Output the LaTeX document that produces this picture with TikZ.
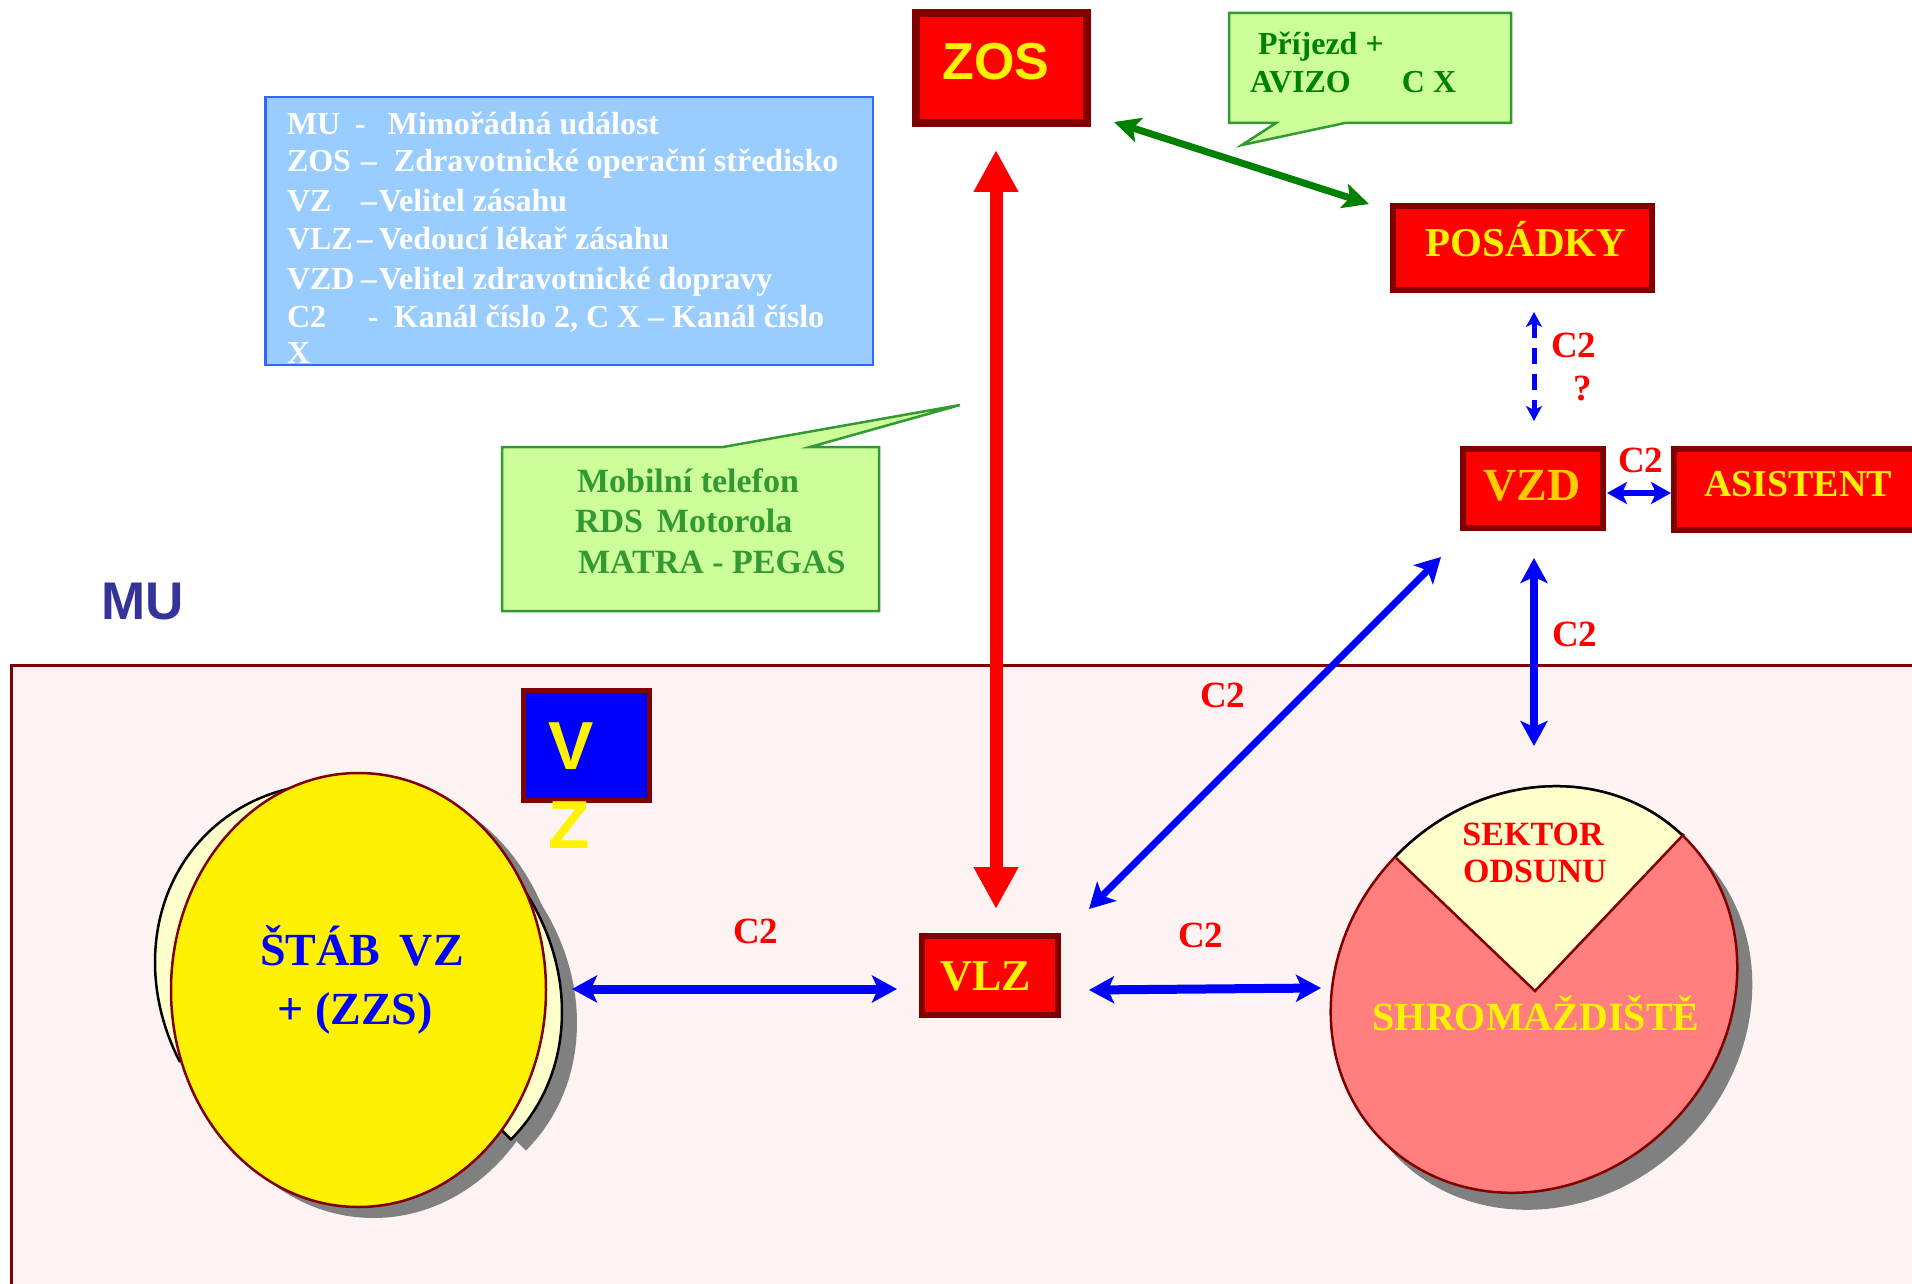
\documentclass[tikz,border=0pt]{standalone}
\usepackage{fontspec}
\setmainfont{Liberation Serif}
\newfontfamily\sansf{Liberation Sans}
\usetikzlibrary{arrows.meta}
\newcommand\myfs[1]{\fontsize{#1pt}{#1pt}\selectfont}
\definecolor{dred}{HTML}{800000}
\definecolor{pinkbg}{HTML}{FDF3F3}
\definecolor{muc}{HTML}{333399}
\definecolor{legf}{HTML}{99CCFF}
\definecolor{legb}{HTML}{3366FF}
\definecolor{callf}{HTML}{CCFF99}
\definecolor{callb}{HTML}{339933}
\definecolor{dgreen}{HTML}{008000}
\definecolor{mgreen}{HTML}{339933}
\definecolor{lyel}{HTML}{FFFFCC}
\definecolor{salmon}{HTML}{FF7F7F}
\definecolor{shgray}{HTML}{808080}
\definecolor{vzdc}{HTML}{FFCC00}
\begin{document}
\begin{tikzpicture}[x=1pt,y=1pt,
  every node/.style={inner sep=0pt,outer sep=0pt},
  rbox/.style={draw=dred,fill=red,line width=6pt},
  ytxt/.style={font={\bfseries\myfs{#1}},text=yellow,anchor=base},
  lab/.style={font={\bfseries\myfs{37}},text=red,anchor=base west},
  legt/.style={font={\bfseries\myfs{32}},text=white,anchor=base west},
  calltxt/.style={font={\bfseries\myfs{32}},text=dgreen,anchor=base west},
  mobtxt/.style={font={\bfseries\myfs{34}},text=mgreen,anchor=base west},
  callout/.style={fill=callf,draw=callb,line width=2.5pt,line join=miter},
  bluearr/.style={draw=blue,line width=#1,{Stealth[length=25pt,width=27pt,inset=6pt]}-{Stealth[length=25pt,width=27pt,inset=6pt]}},
]
\useasboundingbox (0,0) rectangle (1912,-1284);
\clip (0,0) rectangle (1912,-1284);
\fill[white] (0,0) rectangle (1912,-1284);

% event area
\draw[fill=pinkbg,draw=dred,line width=3pt] (11,-665) rectangle (1930,-1300);
\node[font={\sansf\bfseries\myfs{53}},text=muc,anchor=base west] (mu) at (101,-619) {MU};

% legend
\node[draw=legb,fill=legf,line width=2.5pt,minimum width=607.5pt,minimum height=267.5pt] (legend) at (569,-231) {};
\node[legt] (l1) at (287,-135) {\makebox[68pt][l]{MU}\makebox[33pt][l]{-}Mimořádná událost};
\node[legt] (l2) at (287,-172) {\makebox[74pt][l]{ZOS}\makebox[33pt][l]{–}Zdravotnické operační středisko};
\node[legt] (l3) at (287,-212) {\makebox[74pt][l]{VZ}\makebox[18pt][l]{–}Velitel zásahu};
\node[legt] (l4) at (287,-250) {\makebox[70pt][l]{VLZ}\makebox[22pt][l]{–}Vedoucí lékař zásahu};
\node[legt] (l5) at (287,-290) {\makebox[74pt][l]{VZD}\makebox[18pt][l]{–}Velitel zdravotnické dopravy};
\node[legt] (l6) at (287,-327) {\makebox[81pt][l]{C2}\makebox[26pt][l]{-}Kanál číslo 2,\hspace{8pt}C X – Kanál číslo};
\node[legt] (l7) at (287,-363) {X};

% callout Prijezd
\draw[callout] (1229,-13) -- (1511,-13) -- (1511,-123) -- (1345,-123) -- (1242,-145) -- (1276,-123) -- (1229,-123) -- cycle;
\node[calltxt] (prij) at (1258,-55) {Příjezd +};
\node[calltxt] (aviz) at (1250,-93) {\makebox[152pt][l]{AVIZO}C X};

% callout mobile
\draw[callout] (502,-447) -- (723,-447) -- (960,-405) -- (810,-447) -- (879,-447) -- (879,-611) -- (502,-611) -- cycle;
\node[mobtxt] (mob1) at (577,-492) {Mobilní telefon};
\node[mobtxt] (mob2) at (575,-532) {RDS\hspace{14pt}Motorola};
\node[mobtxt] (mob3) at (578,-573) {MATRA - PEGAS};

% boxes
\node[rbox,line width=8pt,minimum width=171pt,minimum height=110pt] (zos) at (1001.5,-68) {};
\node[font={\sansf\bfseries\myfs{52}},text=yellow,anchor=base] (zost) at (996,-80) {ZOS};
\node[rbox,minimum width=259pt,minimum height=84pt] (pos) at (1522.5,-248) {};
\node[ytxt=41] (post) at (1526,-257) {POSÁDKY};
\node[rbox,minimum width=140pt,minimum height=79pt] (vzd) at (1533,-488.5) {};
\node[ytxt=46,text=vzdc] (vzdt) at (1532,-500) {VZD};
\node[rbox,minimum width=273pt,minimum height=81pt] (asi) at (1810,-489.5) {};
\node[ytxt=38] (asit) at (1798,-496) {ASISTENT};
\node[rbox,minimum width=136pt,minimum height=79pt] (vlz) at (990,-975.5) {};
\node[ytxt=44] (vlzt) at (986,-990) {VLZ};

% VZ box
\node[draw=dred,fill=blue,line width=5pt,minimum width=126pt,minimum height=110pt] (vzbox) at (586.5,-745.5) {};
\node[font={\sansf\bfseries\myfs{68}},text=yellow,anchor=base west] (vzv) at (548,-769) {V};
\node[font={\sansf\bfseries\myfs{68}},text=yellow,anchor=base west] (vzz) at (548,-848) {Z};

% STAB (tilted back pie, shadow, yellow ellipse)
\begin{scope}[rotate around={-45:(373.5,-998)}]
  \fill[shgray] (373.5,-998) -- ++(215.6,0) arc[start angle=0,end angle=250,x radius=215.6,y radius=190.6] -- cycle;
\end{scope}
\fill[shgray] (373.5,-1001) ellipse[x radius=187.5,y radius=217];
\begin{scope}[rotate around={-45:(358.5,-987)}]
  \draw[fill=lyel,draw=black,line width=2.5pt,line join=round] (358.5,-987) -- ++(215.6,0) arc[start angle=0,end angle=250,x radius=215.6,y radius=190.6] -- cycle;
\end{scope}
\draw[fill=yellow,draw=dred,line width=2.5pt] (358.5,-990) ellipse[x radius=187.5,y radius=217];
\node[font={\bfseries\myfs{46}},text=blue,anchor=base] (stab1) at (362,-965) {ŠTÁB\hspace{8pt} VZ};
\node[font={\bfseries\myfs{46}},text=blue,anchor=base] (stab2) at (355,-1024) {+ (ZZS)};

% SHROMAZDISTE
\begin{scope}[rotate around={45:(1549,-1006.5)}]
  \fill[shgray] (1549,-1006.5) ellipse[x radius=214,y radius=192];
\end{scope}
\begin{scope}[rotate around={45:(1534,-989.5)}]
  \draw[fill=salmon,draw=dred,line width=2.5pt] (1534,-989.5) ellipse[x radius=214,y radius=192];
\end{scope}
\begin{scope}
  \clip (1535,-991) -- (1261,-729) -- (1831,-679) -- cycle;
  \begin{scope}[rotate around={45:(1534,-989.5)}]
    \draw[fill=lyel,draw=black,line width=2.5pt] (1534,-989.5) ellipse[x radius=214,y radius=192];
  \end{scope}
\end{scope}
\draw[dred,line width=2.5pt] (1396,-858) -- (1535,-991) -- (1684,-834);
\node[font={\bfseries\myfs{34}},text=red,anchor=base] (sek1) at (1533,-845) {SEKTOR};
\node[font={\bfseries\myfs{34}},text=red,anchor=base] (sek2) at (1535,-882) {ODSUNU};
\node[font={\bfseries\myfs{40}},text=yellow,anchor=base] (shr) at (1536,-1030) {SHROMAŽDIŠTĚ};

% connector end points
\coordinate (zosA) at (996,-150);
\coordinate (vlzA) at (996,-909);
\coordinate (zosG) at (1114,-122);
\coordinate (posG) at (1369,-204);
\coordinate (posD) at (1534,-312);
\coordinate (vzdD) at (1534,-421);
\coordinate (vzdR) at (1607,-493);
\coordinate (asiL) at (1671,-493);
\coordinate (vzdDg) at (1441,-557);
\coordinate (vlzDg) at (1089,-909);
\coordinate (vzdS) at (1534,-558);
\coordinate (shrN) at (1534,-746);
\coordinate (stabE) at (572,-989);
\coordinate (vlzW) at (897,-989);
\coordinate (vlzE) at (1089,-990);
\coordinate (shrW) at (1321,-988);

% connectors
\draw[red,line width=13pt,{Triangle[length=42pt,width=42pt]}-{Triangle[length=42pt,width=42pt]}] (zosA) -- (vlzA);
\draw[dgreen,line width=7pt,{Stealth[length=26pt,width=25pt,inset=6pt]}-{Stealth[length=26pt,width=25pt,inset=6pt]}] (zosG) -- (posG);
\draw[blue,line width=5pt,dash pattern=on 16pt off 10pt,{Stealth[length=15pt,width=16pt,inset=4pt]}-{Stealth[length=15pt,width=16pt,inset=4pt]}] (posD) -- (vzdD);
\draw[blue,line width=6pt,{Stealth[length=20pt,width=22pt,inset=5pt]}-{Stealth[length=20pt,width=22pt,inset=5pt]}] (vzdR) -- (asiL);
\draw[bluearr=7pt] (vlzDg) -- (vzdDg);
\draw[bluearr=8pt] (vzdS) -- (shrN);
\draw[bluearr=9pt] (stabE) -- (vlzW);
\draw[bluearr=9pt] (vlzE) -- (shrW);

% labels
\node[lab] (c2a) at (1551,-357) {C2};
\node[lab] (qm) at (1573,-400) {?};
\node[lab] (c2b) at (1618,-472) {C2};
\node[lab] (c2c) at (1552,-646) {C2};
\node[lab] (c2d) at (1200,-707) {C2};
\node[lab] (c2e) at (733,-943) {C2};
\node[lab] (c2f) at (1178,-947) {C2};
\end{tikzpicture}
\end{document}
